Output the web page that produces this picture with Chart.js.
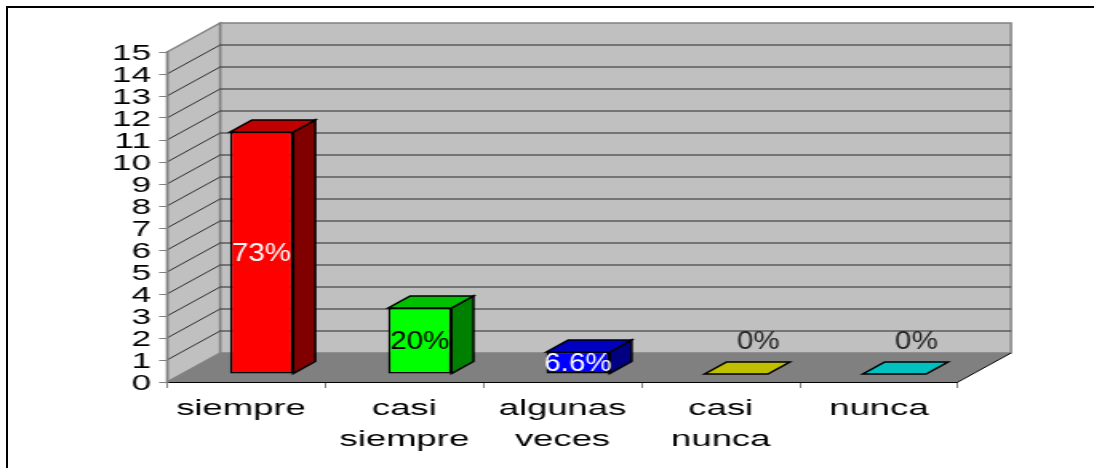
<!DOCTYPE html>
<html>
<head>
<meta charset="utf-8">
<style>
  html, body { margin: 0; padding: 0; background: #fff; overflow: hidden; }
  #wrap { position: relative; width: 1094px; height: 468px; overflow: hidden; }
  /* frame of the source picture: only top and left are visible */
  #frame { position: absolute; left: 6px; top: 6px; width: 1120px; height: 480px; border-top: 2px solid #000; border-left: 2px solid #000; }
  /* the original picture is stretched sideways, so the canvas is too */
  #chart { position: absolute; left: 0; top: 0; transform-origin: 0 0; }
</style>
</head>
<body>
<div id="wrap">
  <div id="frame"></div>
  <canvas id="chart"></canvas>
</div>
<script src="https://cdn.jsdelivr.net/npm/chart.js@4"></script>
<script>
const categories = [['siempre '], ['casi', 'siempre'], ['algunas', 'veces'], ['casi', 'nunca'], ['nunca']];
const values = [11, 3, 1, 0, 0];
const valueLabels = ['73%', '20%', '6.6%', '0%', '0%'];
const labelColors = ['#fff', '#000', '#fff', '#222', '#222'];
const frontColors = ['#ff0000', '#00ff00', '#0000ff', '#ffff00', '#00ffff'];
const topColors = ['#c00000', '#00c000', '#0000c0', '#c0c000', '#00c0c0'];
const sideColors = ['#800000', '#008000', '#000080', '#808000', '#008080'];

const W = 684, H = 468;
const stretch = 1094 / W;
const px = v => v / stretch; // picture x to canvas x

const wallDepth = { x: px(53), y: -29 };
const barPlane = { x: px(15.5), y: -8 };
const barDepth = { x: px(22), y: -12 };

const canvas = document.getElementById('chart');
canvas.width = W;
canvas.height = H;
canvas.style.transform = 'scaleX(' + stretch + ')';

function poly(ctx, pts, fill, stroke, lw) {
    ctx.beginPath();
    pts.forEach((p, i) => i ? ctx.lineTo(p[0], p[1]) : ctx.moveTo(p[0], p[1]));
    ctx.closePath();
    if (fill) { ctx.fillStyle = fill; ctx.fill(); }
    if (stroke) { ctx.strokeStyle = stroke; ctx.lineWidth = lw; ctx.stroke(); }
}

const box3d = {
    id: 'box3d',
    // walls and floor go under the axes
    beforeDraw(chart) {
        const { ctx, chartArea: a, scales } = chart;
        const dx = wallDepth.x, dy = wallDepth.y;
        ctx.save();
        poly(ctx, [[a.left + dx, a.top + dy], [a.right + dx, a.top + dy], [a.right + dx, a.bottom + dy], [a.left + dx, a.bottom + dy]], '#c0c0c0', '#808080', 1.4);
        poly(ctx, [[a.left, a.bottom], [a.left, a.top], [a.left + dx, a.top + dy], [a.left + dx, a.bottom + dy]], '#c0c0c0', '#808080', 1.4);
        scales.y.ticks.forEach(t => {
            if (t.value === 0 || t.value === 15) return;
            const y = scales.y.getPixelForValue(t.value);
            ctx.beginPath();
            ctx.moveTo(a.left, y);
            ctx.lineTo(a.left + dx, y + dy);
            ctx.lineTo(a.right + dx, y + dy);
            ctx.strokeStyle = '#2a2a2a';
            ctx.lineWidth = 1;
            ctx.stroke();
        });
        poly(ctx, [[a.left, a.bottom], [a.right, a.bottom], [a.right + dx, a.bottom + dy], [a.left + dx, a.bottom + dy]], '#808080');
        ctx.beginPath();
        ctx.moveTo(a.right, a.bottom);
        ctx.lineTo(a.right + dx, a.bottom + dy);
        ctx.strokeStyle = '#000';
        ctx.lineWidth = 1;
        ctx.stroke();
        ctx.restore();
    },
    beforeDatasetsDraw(chart) {
        chart.ctx.save();
        chart.ctx.translate(barPlane.x, barPlane.y);
    },
    afterDatasetsDraw(chart) {
        const ctx = chart.ctx;
        const bars = chart.getDatasetMeta(0).data;
        const dx = barDepth.x, dy = barDepth.y;
        bars.forEach((b, i) => {
            const l = b.x - b.width / 2, r = b.x + b.width / 2;
            if (b.base > b.y) {
                poly(ctx, [[r, b.y], [r + dx, b.y + dy], [r + dx, b.base + dy], [r, b.base]], sideColors[i], '#000', 1.5);
            }
            poly(ctx, [[l, b.y], [l + dx, b.y + dy], [r + dx, b.y + dy], [r, b.y]], topColors[i], '#000', 1.5);
        });
        bars.forEach((b, i) => {
            const empty = values[i] === 0;
            const x = empty ? b.x + dx : b.x;
            const y = empty ? b.y - 32 : (b.y + b.base) / 2 + 1;
            ctx.save();
            ctx.translate(x, y);
            ctx.scale(0.71, 1); // value labels are less wide than the tick labels
            ctx.font = '26px "Liberation Sans", Arial, sans-serif';
            ctx.textAlign = 'center';
            ctx.textBaseline = 'middle';
            ctx.fillStyle = labelColors[i];
            ctx.fillText(valueLabels[i], 0, 0);
            ctx.restore();
        });
        ctx.restore();
    }
};

new Chart(canvas, {
    type: 'bar',
    data: {
        labels: categories,
        datasets: [{
            data: values,
            backgroundColor: frontColors,
            borderColor: '#000',
            borderWidth: 1.5,
            borderSkipped: false,
            barPercentage: 0.4,
            categoryPercentage: 1
        }]
    },
    options: {
        responsive: false,
        animation: false,
        layout: { padding: { left: 0, top: 52, right: px(1094 - 958), bottom: 0 } },
        plugins: { legend: { display: false }, tooltip: { enabled: false } },
        scales: {
            x: {
                afterFit(scale) { scale.height = H - 382; },
                grid: { drawOnChartArea: false, color: '#808080', tickLength: 6 },
                border: { color: '#000', width: 1 },
                ticks: {
                    color: '#000',
                    maxRotation: 0,
                    autoSkip: false,
                    padding: 6,
                    font: { family: '"Liberation Sans", Arial, sans-serif', size: 22.8, lineHeight: 1.33 }
                }
            },
            y: {
                min: 0,
                max: 15,
                afterFit(scale) { scale.width = px(167); },
                grid: { drawOnChartArea: false, color: '#808080', tickLength: 5 },
                border: { color: '#808080', width: 1.4 },
                ticks: {
                    color: '#000',
                    stepSize: 1,
                    autoSkip: false,
                    padding: 5,
                    // empty first line nudges the number down a little
                    callback: v => ['', String(v)],
                    font: { family: '"Liberation Sans", Arial, sans-serif', size: 22, lineHeight: 0.14 }
                }
            }
        }
    },
    plugins: [box3d]
});
</script>
</body>
</html>
